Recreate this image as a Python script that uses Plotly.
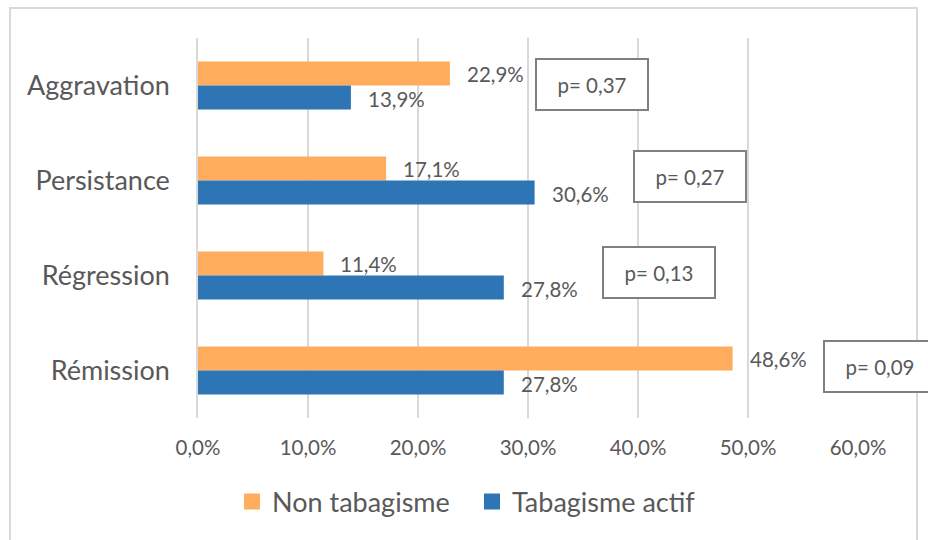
import plotly.graph_objects as go

# Outcome categories (top to bottom) and percentages per group
categories = ["Aggravation", "Persistance", "Régression", "Rémission"]
non_tabagisme = [22.9, 17.1, 11.4, 48.6]
tabagisme_actif = [13.9, 30.6, 27.8, 27.8]
p_values = ["0,37", "0,27", "0,13", "0,09"]
x_ticks = [0, 10, 20, 30, 40, 50, 60]
x_tick_labels = ["0,0%", "10,0%", "20,0%", "30,0%", "40,0%", "50,0%", "60,0%"]

ORANGE = "#FFAC5C"
BLUE = "#2E75B6"
TEXT = "#595959"
GRID = "#D9D9D9"
FONT = "Lato"

W, H = 928, 540
L, R, T, B = 198, 70, 38, 122

fig = go.Figure()
fig.add_trace(go.Bar(
    name="Non tabagisme", y=categories, x=non_tabagisme, orientation="h",
    marker=dict(color=ORANGE, line=dict(width=0)), showlegend=False,
))
fig.add_trace(go.Bar(
    name="Tabagisme actif", y=categories, x=tabagisme_actif, orientation="h",
    marker=dict(color=BLUE, line=dict(width=0)), showlegend=False,
))
# legend entries with larger square swatches
for name, color in (("Non tabagisme", ORANGE), ("Tabagisme actif", BLUE)):
    fig.add_trace(go.Scatter(
        name=name, x=[None], y=[None], mode="markers",
        marker=dict(symbol="square", size=16, color=color, line=dict(width=0)),
        showlegend=True,
    ))


def fmt(v):
    return f"{v:.1f}%".replace(".", ",")


annotations = []
# value labels placed just past the end of each bar
for cat, v_orange, v_blue in zip(categories, non_tabagisme, tabagisme_actif):
    for v, shift in ((v_orange, 12), (v_blue, -13)):
        annotations.append(dict(
            x=v, y=cat, xref="x", yref="y", text=fmt(v), showarrow=False,
            xanchor="left", yanchor="middle", xshift=15, yshift=shift,
            font=dict(family=FONT, size=20.5, color=TEXT),
        ))

# boxed p-values, centres given in pixels within the page
box_centres = [(592, 84), (690, 176), (659, 272), (880, 366)]
pw, ph = W - L - R, H - T - B
for p, (cx, cy) in zip(p_values, box_centres):
    annotations.append(dict(
        x=(cx - L) / pw, y=(H - B - cy) / ph, xref="paper", yref="paper",
        text=f"p= {p}", showarrow=False, xanchor="center", yanchor="middle",
        width=110, height=49, borderpad=0, bordercolor="#808080", borderwidth=2,
        bgcolor="white", font=dict(family=FONT, size=20.5, color=TEXT),
    ))

# light outer frame around the chart area
shapes = [dict(
    type="rect", xref="paper", yref="paper",
    x0=(10 - L) / pw, x1=(917 - L) / pw,
    y0=(H - B - 560) / ph, y1=(H - B - 8) / ph,
    line=dict(color=GRID, width=2), fillcolor="rgba(0,0,0,0)", layer="below",
)]

fig.update_layout(
    width=W, height=H,
    margin=dict(l=L, r=R, t=T, b=B, pad=0),
    paper_bgcolor="white", plot_bgcolor="white",
    barmode="group", bargap=0.495, bargroupgap=0,
    font=dict(family=FONT, color=TEXT),
    xaxis=dict(
        range=[0, 60], tickvals=x_ticks, ticktext=x_tick_labels,
        showgrid=True, gridcolor=GRID, gridwidth=1.5, zeroline=False,
        showline=False, ticks="outside", ticklen=11, tickcolor="rgba(0,0,0,0)",
        tickfont=dict(family=FONT, size=20.5, color=TEXT), fixedrange=True,
    ),
    yaxis=dict(
        categoryorder="array", categoryarray=categories, autorange="reversed",
        showgrid=False, zeroline=False, showline=True, linecolor=GRID, linewidth=1.5,
        ticks="outside", ticklen=21, tickcolor="rgba(0,0,0,0)",
        tickfont=dict(family=FONT, size=27, color=TEXT), fixedrange=True,
    ),
    legend=dict(
        orientation="h", xref="container", yref="container",
        x=232 / W, y=1 - 502 / H, xanchor="left", yanchor="middle",
        font=dict(family=FONT, size=27, color=TEXT), itemwidth=30,
        entrywidth=195, traceorder="normal",
    ),
    annotations=annotations, shapes=shapes,
)

fig.write_html("out.html", config={"displayModeBar": False})
